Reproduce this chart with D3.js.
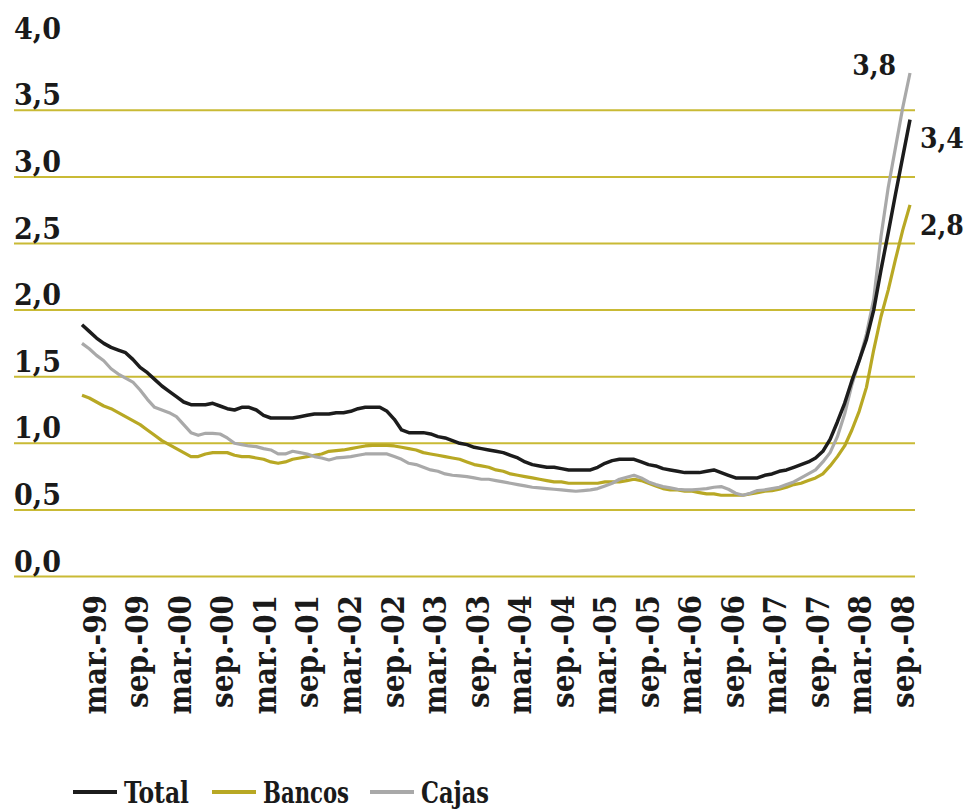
<!DOCTYPE html>
<html><head><meta charset="utf-8">
<script src="https://cdn.jsdelivr.net/npm/d3@7/dist/d3.min.js"></script>
<style>
html,body{margin:0;padding:0;background:#fff;}
svg{display:block;background:#fff;}
text{font-family:"DejaVu Serif Condensed","DejaVu Serif",serif;font-stretch:condensed;fill:#1a1a1a;}
</style></head><body>
<svg id="chart" width="967" height="809"></svg>
<script>
// ---- data ----
const xLabels = ["mar.-99","sep.-09","mar.-00","sep.-00","mar.-01","sep.-01","mar.-02","sep.-02","mar.-03","sep.-03",
  "mar.-04","sep.-04","mar.-05","sep.-05","mar.-06","sep.-06","mar.-07","sep.-07","mar.-08","sep.-08"];
const yTicks = [0, 0.5, 1, 1.5, 2, 2.5, 3, 3.5, 4];
const yTickLabels = ["0,0","0,5","1,0","1,5","2,0","2,5","3,0","3,5","4,0"];
const seriesNames = ["Total","Bancos","Cajas"];
const seriesColors = ["#1c1c1c","#b8a824","#a9a9a9"];
// monthly values, mar-99 .. sep-08
const total = [
  1.89,1.84,1.79,1.75,1.72,1.70,1.68,1.63,1.57,1.53,
  1.48,1.43,1.39,1.35,1.31,1.29,1.29,1.29,1.30,1.28,
  1.26,1.25,1.27,1.27,1.25,1.21,1.19,1.19,1.19,1.19,
  1.20,1.21,1.22,1.22,1.22,1.23,1.23,1.24,1.26,1.27,
  1.27,1.27,1.24,1.18,1.10,1.08,1.08,1.08,1.07,1.05,
  1.04,1.02,1.00,0.99,0.97,0.96,0.95,0.94,0.93,0.91,
  0.89,0.86,0.84,0.83,0.82,0.82,0.81,0.80,0.80,0.80,
  0.80,0.82,0.85,0.87,0.88,0.88,0.88,0.86,0.84,0.83,
  0.81,0.80,0.79,0.78,0.78,0.78,0.79,0.80,0.78,0.76,
  0.74,0.74,0.74,0.74,0.76,0.77,0.79,0.80,0.82,0.84,
  0.86,0.89,0.94,1.03,1.16,1.30,1.47,1.62,1.78,2.00,
  2.30,2.58,2.87,3.15,3.43];
const bancos = [
  1.36,1.34,1.31,1.28,1.26,1.23,1.20,1.17,1.14,1.10,
  1.06,1.02,0.99,0.96,0.93,0.90,0.90,0.92,0.93,0.93,
  0.93,0.91,0.90,0.90,0.89,0.88,0.86,0.85,0.86,0.88,
  0.89,0.90,0.91,0.92,0.94,0.945,0.95,0.96,0.97,0.98,
  0.985,0.985,0.985,0.98,0.97,0.96,0.95,0.93,0.92,0.91,
  0.90,0.89,0.88,0.86,0.84,0.83,0.82,0.80,0.79,0.77,
  0.76,0.75,0.74,0.73,0.72,0.71,0.71,0.70,0.70,0.70,
  0.70,0.70,0.71,0.71,0.71,0.72,0.73,0.72,0.70,0.68,
  0.66,0.65,0.65,0.64,0.64,0.63,0.62,0.62,0.61,0.61,
  0.61,0.61,0.62,0.63,0.64,0.645,0.655,0.67,0.69,0.70,
  0.72,0.74,0.77,0.83,0.90,0.98,1.10,1.24,1.42,1.70,
  1.95,2.15,2.38,2.60,2.79];
const cajas = [
  1.75,1.71,1.66,1.62,1.56,1.52,1.49,1.46,1.40,1.33,
  1.27,1.25,1.23,1.20,1.14,1.08,1.06,1.075,1.075,1.07,
  1.04,1.00,0.99,0.98,0.975,0.96,0.95,0.92,0.92,0.94,
  0.93,0.92,0.90,0.89,0.875,0.89,0.895,0.90,0.91,0.92,
  0.92,0.92,0.92,0.90,0.88,0.85,0.84,0.82,0.80,0.79,
  0.77,0.76,0.755,0.75,0.74,0.73,0.73,0.72,0.71,0.70,
  0.69,0.68,0.67,0.665,0.66,0.655,0.65,0.645,0.64,0.645,
  0.65,0.66,0.68,0.70,0.73,0.745,0.76,0.74,0.71,0.69,
  0.675,0.665,0.655,0.65,0.65,0.655,0.66,0.67,0.675,0.655,
  0.625,0.61,0.625,0.645,0.65,0.66,0.67,0.69,0.71,0.74,
  0.77,0.80,0.86,0.93,1.05,1.22,1.44,1.62,1.82,2.08,
  2.55,2.92,3.22,3.52,3.78];
const endLabels = ["3,4","2,8","3,8"];

// ---- layout ----
const svg = d3.select("#chart");
const x = d3.scaleLinear().domain([0, total.length - 1]).range([82, 910]);
const xl = d3.scalePoint().domain(xLabels).range([95, 903]);
const y = d3.scaleLinear().domain([0, 4]).range([576.5, 43.7]);

// gridlines
svg.append("g").selectAll("line").data(yTicks.filter(t => t < 4)).join("line")
  .attr("x1", 14).attr("x2", 915)
  .attr("y1", d => y(d)).attr("y2", d => y(d))
  .attr("stroke", "#c9ba35").attr("stroke-width", 2);

// y labels
svg.append("g").selectAll("text").data(yTicks).join("text")
  .attr("x", 14).attr("y", d => y(d) - 5)
  .attr("font-size", 30).attr("font-weight", "bold")
  .text((d, i) => yTickLabels[i]);

// x labels
svg.append("g").selectAll("text").data(xLabels).join("text")
  .attr("transform", d => `translate(${xl(d)},595) rotate(-90)`)
  .attr("text-anchor", "end").attr("dy", "0.35em")
  .attr("font-size", 31).attr("font-weight", "bold")
  .text(d => d);

// lines
const line = d3.line().x((d, i) => x(i)).y(d => y(d)).curve(d3.curveLinear);
const seriesData = [total, bancos, cajas];
const order = [1, 2, 0];
order.forEach(k => {
  svg.append("path").datum(seriesData[k])
    .attr("fill", "none").attr("stroke", seriesColors[k])
    .attr("stroke-width", k === 0 ? 3.5 : 3.2)
    .attr("stroke-linejoin", "round")
    .attr("d", line);
});

// end labels
const last = total.length - 1;
const endPos = [
  {x: 920, y: y(total[last]) + 28, anchor: "start"},
  {x: 920, y: y(bancos[last]) + 30, anchor: "start"},
  {x: 896, y: y(cajas[last]) + 2, anchor: "end"}
];
svg.append("g").selectAll("text").data(endPos).join("text")
  .attr("x", d => d.x).attr("y", d => d.y)
  .attr("text-anchor", d => d.anchor)
  .attr("font-size", 28).attr("font-weight", 900)
  .text((d, i) => endLabels[i]);

// legend
const legX = [73, 212, 370];
const legW = [65, 86, 68];
const leg = svg.append("g");
seriesNames.forEach((n, i) => {
  leg.append("line").attr("x1", legX[i]).attr("x2", legX[i] + 44)
    .attr("y1", 792).attr("y2", 792)
    .attr("stroke", seriesColors[i]).attr("stroke-width", 4);
  leg.append("text").attr("x", legX[i] + 51).attr("y", 803)
    .attr("font-size", 30).attr("font-weight", "bold")
    .attr("textLength", legW[i]).attr("lengthAdjust", "spacingAndGlyphs")
    .text(n);
});
</script>
</body></html>
